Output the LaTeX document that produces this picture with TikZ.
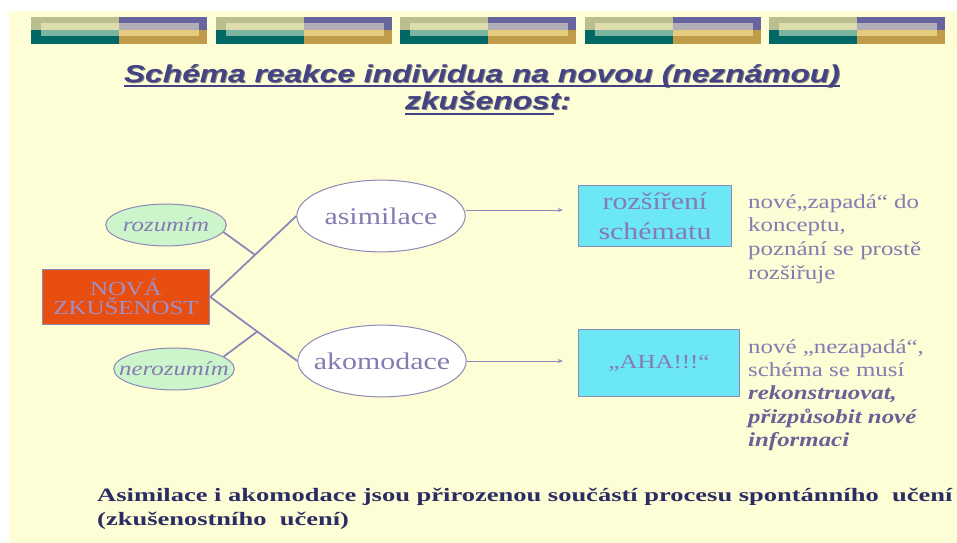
\documentclass[tikz,border=0pt]{standalone}
\usepackage{fontspec}
\setmainfont{Liberation Serif}[FakeStretch=1.25]
\newfontfamily\titlef{Liberation Sans}[FakeStretch=1.3]
\newfontfamily\botf{Liberation Serif}[FakeStretch=1.4]
\usetikzlibrary{shapes.geometric,arrows.meta,calc}
\definecolor{bgyellow}{RGB}{253,253,214}
\definecolor{edgec}{RGB}{140,136,184}
\definecolor{txtc}{RGB}{134,122,178}
\definecolor{txtd}{RGB}{108,96,150}
\definecolor{botc}{RGB}{44,44,98}
\definecolor{titc}{RGB}{66,66,132}
\definecolor{novac}{RGB}{232,78,16}
\definecolor{novat}{RGB}{160,144,200}
\definecolor{greenc}{RGB}{204,245,204}
\definecolor{cyanc}{RGB}{108,232,244}
\definecolor{barA}{RGB}{187,191,144}
\definecolor{barB}{RGB}{103,101,157}
\definecolor{barC}{RGB}{0,105,102}
\definecolor{barD}{RGB}{192,155,74}
\definecolor{barE}{RGB}{220,220,172}
\definecolor{barF}{RGB}{178,174,184}
\definecolor{barG}{RGB}{123,181,160}
\definecolor{barH}{RGB}{228,203,126}
\tikzset{
  conn/.style={draw=edgec, line width=1.8pt},
  arr/.style={draw=edgec, line width=1pt, -{Stealth[length=5pt,width=4pt]}},
  greenell/.style={ellipse, draw=edgec, line width=1pt, fill=greenc, inner sep=0pt,
    minimum width=121pt, minimum height=42pt, text=txtc,
    font=\fontsize{20}{24}\selectfont\itshape},
  whiteell/.style={ellipse, draw=edgec, line width=1pt, fill=white, inner sep=0pt,
    minimum width=169pt, minimum height=72pt, text=txtc,
    font=\fontsize{24}{28}\selectfont},
  cyanbox/.style={rectangle, draw=edgec, line width=1.2pt, fill=cyanc, inner sep=0pt,
    text=txtc, align=center},
  sidetext/.style={anchor=north west, inner sep=0pt, align=left, text=txtc,
    font=\fontsize{20}{24}\selectfont},
  titletext/.style={inner sep=0pt, text=titc, font=\titlef\bfseries\itshape\fontsize{24.5}{28}\selectfont},
  titleshadow/.style={inner sep=0pt, text=black!50, font=\titlef\bfseries\itshape\fontsize{24.5}{28}\selectfont}
}
\begin{document}
\begin{tikzpicture}[x=1bp,y=-1bp]
\useasboundingbox (0,0) rectangle (957,543);
\fill[white] (0,0) rectangle (957,543);
\fill[bgyellow] (9,11) rectangle (957,543);
% header bars
\foreach \i in {0,...,4}{
  \pgfmathsetmacro{\xa}{31+184.5*\i}
  \pgfmathsetmacro{\xm}{\xa+88}
  \pgfmathsetmacro{\xb}{\xa+176}
  \fill[barA] (\xa,17) rectangle (\xm,30);
  \fill[barB] (\xm,17) rectangle (\xb,30);
  \fill[barC] (\xa,30) rectangle (\xm,44);
  \fill[barD] (\xm,30) rectangle (\xb,44);
  \fill[barE] (\xa+10,23) rectangle (\xm,30);
  \fill[barF] (\xm,23) rectangle (\xb-8,30);
  \fill[barG] (\xa+10,30) rectangle (\xm,36);
  \fill[barH] (\xm,30) rectangle (\xb-8,36);
}
% title
\node[titleshadow] at (483,77) {Schéma reakce individua na novou (neznámou)};
\node[titletext] (t1) at (482,76) {Schéma reakce individua na novou (neznámou)};
\draw[titc, line width=2pt] ([yshift=-4bp]t1.base west) -- ([yshift=-4bp]t1.base east);
\node[titleshadow, anchor=base west] at (406,111) {zkušenost:};
\node[titletext, anchor=base west] (t2) at (405,110) {zkušenost\rlap{:}};
\draw[titc, line width=2pt] ([yshift=-4bp]t2.base west) -- ([yshift=-4bp,xshift=-7bp]t2.base east);
% nodes
\node[rectangle, draw=edgec, line width=1.2pt, fill=novac, minimum width=168pt, minimum height=55pt,
  inner sep=0pt, align=center, text=novat, font=\fontsize{20}{19}\selectfont] (nova) at (126,297) {NOVÁ\\ZKUŠENOST};
\node[greenell] (roz) at (166,225) {\makebox[0pt]{rozumím}};
\node[greenell] (neroz) at (174,369) {\makebox[0pt]{nerozumím}};
\node[whiteell] (asim) at (381,216) {\makebox[0pt]{asimilace}};
\node[whiteell] (akom) at (382,361) {\makebox[0pt]{akomodace}};
\node[cyanbox, minimum width=154pt, minimum height=62pt, font=\fontsize{24}{30}\selectfont] (rozs) at (655,216) {rozšíření\\schématu};
\node[cyanbox, minimum width=162pt, minimum height=67pt, font=\fontsize{20}{24}\selectfont] (aha) at (659,363) {„AHA!!!“};
% connectors
\draw[conn] (nova.east) -- (asim.west) coordinate[pos=0.52] (j1);
\draw[conn] (nova.east) -- (akom.west) coordinate[pos=0.54] (j2);
\draw[conn] (roz.-7) -- (j1);
\draw[conn] (neroz.14) -- (j2);
\draw[arr, shorten >=15pt] ([yshift=6bp]asim.east) -- ([yshift=6bp]asim.east -| rozs.west);
\draw[arr, shorten >=15pt] (akom.east) -- (akom.east -| aha.west);
% side texts
\node[sidetext] (s1) at (748,194) {nové„zapadá“ do\\konceptu,\\poznání se prostě\\rozšiřuje};
\node[sidetext, font=\fontsize{20}{23.5}\selectfont] (s2) at (748,339) {nové „nezapadá“,\\schéma se musí\\{\color{txtd}\bfseries\itshape rekonstruovat,}\\{\color{txtd}\bfseries\itshape přizpůsobit nové}\\{\color{txtd}\bfseries\itshape informaci}};
% bottom text
\node[anchor=north west, inner sep=0pt, align=left, text=botc, font=\botf\fontsize{19}{24}\selectfont\bfseries] (bot) at (97,488)
  {Asimilace i akomodace jsou přirozenou součástí procesu spontánního\ \ učení\\(zkušenostního\ \ učení)};
\end{tikzpicture}
\end{document}
